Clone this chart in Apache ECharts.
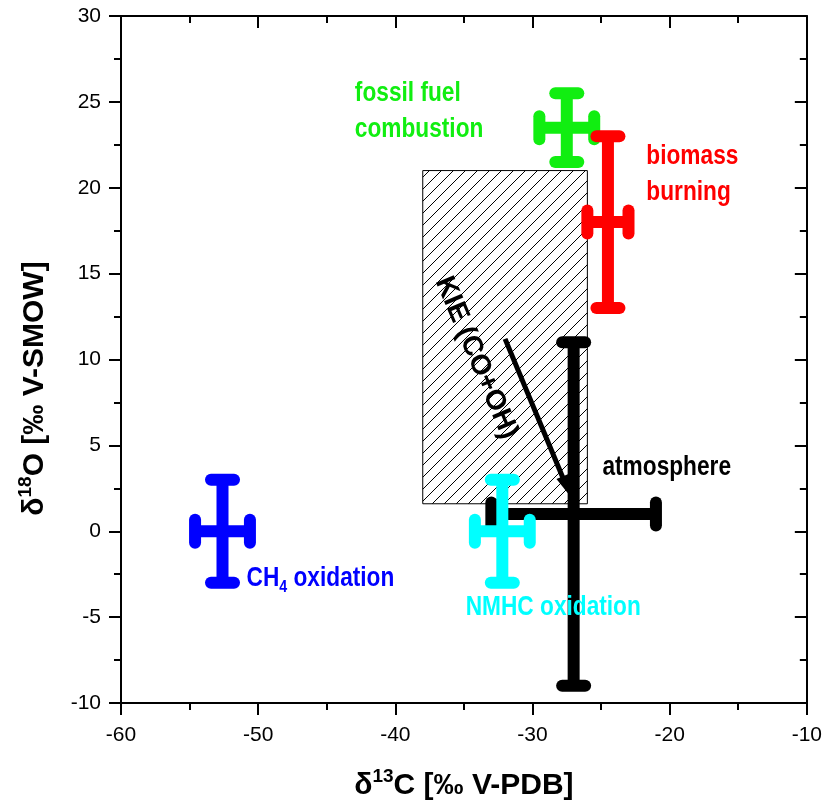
<!DOCTYPE html>
<html>
<head>
<meta charset="utf-8">
<script src="https://cdn.jsdelivr.net/npm/echarts@6/dist/echarts.min.js"></script>
<style>
    html, body { margin: 0; padding: 0; background: #fff; }
    #chart { width: 825px; height: 809px; }
</style>
</head>
<body>
<div id="chart"></div>
<script>
    // source signatures: centre and half-width of the error bars (per mil)
    var sourceNames = ['atmosphere', 'CH4 oxidation', 'NMHC oxidation', 'fossil fuel combustion', 'biomass burning'];
    var sourceC13 = [-27, -52.6, -32.2, -27.5, -24.5];
    var sourceO18 = [1, 0, 0, 23.5, 18];
    var errC13 = [6, 2, 2, 2, 1.5];
    var errO18 = [10, 3, 3, 2, 5];

    // KIE (CO+OH) box and arrow
    var kieC13 = [-38, -26];
    var kieO18 = [1.6, 21];
    var arrowC13 = [-32, -27.2];
    var arrowO18 = [11.2, 2];

    // annotation text and where it sits (data coords)
    var labelText = ['fossil fuel\ncombustion', 'biomass\nburning', 'atmosphere', 'CH{sub|4} oxidation', 'NMHC oxidation'];
    var labelC13 = [-42.95, -21.7, -24.9, -50.85, -34.87];
    var labelO18 = [24.46, 20.76, 3.7, -2.77, -4.46];
    var kieLabel = 'KIE (CO+OH)';
    var kieLabelPos = [-34.1, 10.1];

    var xTicks = { min: -60, max: -10, interval: 10 };
    var yTicks = { min: -10, max: 30, interval: 5 };

    var colors = ['#000000', '#0000ff', '#00ffff', '#11ee11', '#ff0000'];
    var labelColors = ['#11ee11', '#ff0000', '#000000', '#0000ff', '#00ffff'];
    var labelFont = "'Liberation Sans', Arial, sans-serif";

    // hatch tile for the KIE box
    var tile = document.createElement('canvas');
    tile.width = 12;
    tile.height = 12;
    var tctx = tile.getContext('2d');
    tctx.strokeStyle = '#000';
    tctx.lineWidth = 1;
    tctx.beginPath();
    tctx.moveTo(0, 12); tctx.lineTo(12, 0);
    tctx.moveTo(-2, 2); tctx.lineTo(2, -2);
    tctx.moveTo(10, 14); tctx.lineTo(14, 10);
    tctx.stroke();

    var barData = sourceC13.map(function (v, i) {
        return [v, sourceO18[i], errC13[i], errO18[i]];
    });
    var labelData = labelC13.map(function (v, i) { return [v, labelO18[i]]; });

    function renderBar(params, api) {
        var x = api.value(0), y = api.value(1), ex = api.value(2), ey = api.value(3);
        var col = colors[params.dataIndex];
        var l = api.coord([x - ex, y]), r = api.coord([x + ex, y]);
        var t = api.coord([x, y + ey]), b = api.coord([x, y - ey]);
        var half = 11.5;
        var main = { stroke: col, lineWidth: 12, lineCap: 'butt' };
        var cap = { stroke: col, lineWidth: 12, lineCap: 'round' };
        return {
            type: 'group',
            children: [
                { type: 'line', shape: { x1: l[0], y1: l[1], x2: r[0], y2: r[1] }, style: main },
                { type: 'line', shape: { x1: t[0], y1: t[1], x2: b[0], y2: b[1] }, style: main },
                { type: 'line', shape: { x1: t[0] - half, y1: t[1], x2: t[0] + half, y2: t[1] }, style: cap },
                { type: 'line', shape: { x1: b[0] - half, y1: b[1], x2: b[0] + half, y2: b[1] }, style: cap },
                { type: 'line', shape: { x1: l[0], y1: l[1] - half, x2: l[0], y2: l[1] + half }, style: cap },
                { type: 'line', shape: { x1: r[0], y1: r[1] - half, x2: r[0], y2: r[1] + half }, style: cap }
            ]
        };
    }

    function renderBox(params, api) {
        var p1 = api.coord([api.value(0), api.value(3)]);
        var p2 = api.coord([api.value(1), api.value(2)]);
        return {
            type: 'rect',
            shape: { x: p1[0], y: p1[1], width: p2[0] - p1[0], height: p2[1] - p1[1] },
            style: { fill: { image: tile, repeat: 'repeat' }, stroke: '#000', lineWidth: 1 }
        };
    }

    function renderArrow(params, api) {
        var p0 = api.coord([api.value(0), api.value(1)]);
        var p1 = api.coord([api.value(2), api.value(3)]);
        var dx = p1[0] - p0[0], dy = p1[1] - p0[1];
        var len = Math.sqrt(dx * dx + dy * dy);
        var ux = dx / len, uy = dy / len;
        var hl = 22, hw = 6.5;
        var bx = p1[0] - ux * hl, by = p1[1] - uy * hl;
        return {
            type: 'group',
            children: [
                { type: 'line', shape: { x1: p0[0], y1: p0[1], x2: bx + ux * 2, y2: by + uy * 2 }, style: { stroke: '#000', lineWidth: 5 } },
                { type: 'polygon', shape: { points: [[p1[0], p1[1]], [bx - uy * hw, by + ux * hw], [bx + uy * hw, by - ux * hw]] }, style: { fill: '#000' } }
            ]
        };
    }

    function renderLabel(params, api) {
        var p = api.coord([api.value(0), api.value(1)]);
        var col = labelColors[params.dataIndex];
        return {
            type: 'text',
            x: p[0],
            y: p[1],
            scaleX: 0.84,
            style: {
                text: labelText[params.dataIndex],
                fill: col,
                fontFamily: labelFont,
                fontWeight: 'bold',
                fontSize: 27,
                lineHeight: 36,
                align: 'left',
                verticalAlign: 'middle',
                rich: {
                    sub: { fontFamily: labelFont, fontWeight: 'bold', fontSize: 17, fill: col, padding: [16, 0, 0, 0] }
                }
            }
        };
    }

    function renderKie(params, api) {
        var p = api.coord([api.value(0), api.value(1)]);
        return {
            type: 'text',
            x: p[0],
            y: p[1],
            rotation: -1.17,
            style: {
                text: kieLabel,
                fill: '#000',
                fontFamily: labelFont,
                fontWeight: 'bold',
                fontSize: 28,
                align: 'center',
                verticalAlign: 'middle'
            }
        };
    }

    var axisFont = { fontFamily: 'Liberation Sans', fontSize: 21, color: '#000' };
    var lineStyle = { color: '#000', width: 2 };
    var titleRich = {
        d: { fontFamily: 'Liberation Sans', fontWeight: 'bold', fontSize: 30, color: '#000' },
        sup: { fontFamily: 'Liberation Sans', fontWeight: 'bold', fontSize: 19, color: '#000', padding: [0, 0, 18, 0] },
        b: { fontFamily: 'Liberation Sans', fontWeight: 'bold', fontSize: 30, color: '#000' }
    };

    var option = {
        animation: false,
        backgroundColor: '#fff',
        grid: { left: 121, right: 18, top: 16, bottom: 106 },
        xAxis: [
            {
                type: 'value', position: 'bottom',
                min: xTicks.min, max: xTicks.max, interval: xTicks.interval,
                name: '{d|δ}{sup|13}{b|C [‰ V-PDB]}',
                nameLocation: 'middle', nameGap: 64,
                nameTextStyle: { rich: titleRich },
                axisLine: { onZero: false, lineStyle: lineStyle },
                axisTick: { inside: false, length: 12, lineStyle: lineStyle },
                minorTick: { show: true, splitNumber: 2, length: 7, lineStyle: lineStyle },
                axisLabel: Object.assign({ margin: 22 }, axisFont),
                splitLine: { show: false }
            },
            {
                type: 'value', position: 'top',
                min: xTicks.min, max: xTicks.max, interval: xTicks.interval,
                axisLine: { onZero: false, lineStyle: lineStyle },
                axisTick: { inside: true, length: 12, lineStyle: lineStyle },
                minorTick: { show: true, splitNumber: 2, length: 7, lineStyle: lineStyle },
                axisLabel: { show: false },
                splitLine: { show: false }
            }
        ],
        yAxis: [
            {
                type: 'value', position: 'left',
                min: yTicks.min, max: yTicks.max, interval: yTicks.interval,
                name: '{d|δ}{sup|18}{b|O [‰ V-SMOW]}',
                nameLocation: 'middle', nameGap: 68,
                nameTextStyle: { rich: titleRich, padding: [0, 58, 0, 0] },
                axisLine: { onZero: false, lineStyle: lineStyle },
                axisTick: { inside: false, length: 12, lineStyle: lineStyle },
                minorTick: { show: true, splitNumber: 2, length: 7, lineStyle: lineStyle },
                axisLabel: Object.assign({ margin: 20 }, axisFont),
                splitLine: { show: false }
            },
            {
                type: 'value', position: 'right',
                min: yTicks.min, max: yTicks.max, interval: yTicks.interval,
                axisLine: { onZero: false, lineStyle: lineStyle },
                axisTick: { inside: true, length: 12, lineStyle: lineStyle },
                minorTick: { show: true, splitNumber: 2, length: 7, lineStyle: lineStyle },
                axisLabel: { show: false },
                splitLine: { show: false }
            }
        ],
        series: [
            { type: 'custom', name: 'KIE box', renderItem: renderBox, data: [[kieC13[0], kieC13[1], kieO18[0], kieO18[1]]], z: 1 },
            { type: 'custom', name: 'sources', renderItem: renderBar, data: barData, z: 2 },
            { type: 'custom', name: 'KIE arrow', renderItem: renderArrow, data: [[arrowC13[0], arrowO18[0], arrowC13[1], arrowO18[1]]], z: 3 },
            { type: 'custom', name: 'labels', renderItem: renderLabel, data: labelData, z: 4 },
            { type: 'custom', name: 'KIE label', renderItem: renderKie, data: [kieLabelPos], z: 4 }
        ]
    };

    var chart = echarts.init(document.getElementById('chart'));
    chart.setOption(option);
</script>
</body>
</html>
